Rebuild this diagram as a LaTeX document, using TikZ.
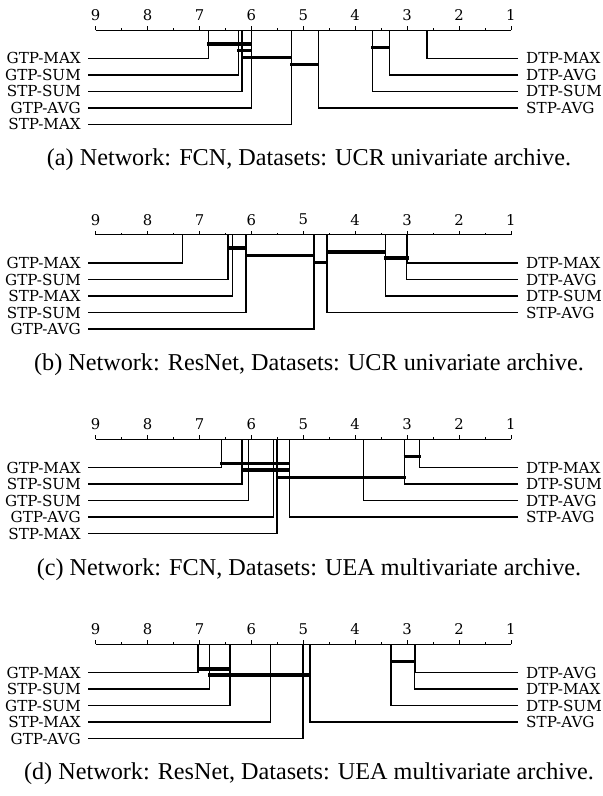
\documentclass[tikz,border=0pt]{standalone}
\usepackage{fontspec}
\setmainfont{Liberation Serif}
\newfontfamily\cdfont{DejaVu Serif}
\usepackage{tikz}
% rank -> horizontal position on the axis
\newcommand{\rx}[1]{95.7+(9-#1)*51.9}
\newcommand{\PanelSpace}{204.7}
\newcommand{\clique}[3]{\draw[clique] ({\rx{#1}-1},#3) -- ({\rx{#2}+1},#3);}

\begin{document}
\begin{tikzpicture}[x=1pt,y=-1pt,
  lbl/.style={font=\cdfont\fontsize{15.2}{17}\selectfont, inner sep=0pt, text depth=0pt},
  num/.style={font=\cdfont\fontsize{14.8}{16}\selectfont, inner sep=0pt},
  row/.style={line width=1.5pt},
  clique/.style={line width=3.3pt},
  axis/.style={line width=0.7pt},
  capt/.style={font=\fontsize{24.2}{27}\selectfont, inner sep=0pt}]

\useasboundingbox (0,0) rectangle (603,796);

% (a) FCN, UCR
\begin{scope}
\draw[axis] ({\rx{9}},30) -- ({\rx{1}},30);
\foreach \i in {1,...,9} {
  \draw[axis] ({\rx{\i}},30) -- ({\rx{\i}},26);
  \node[num] (a-n\i) at ({\rx{\i}},15) {\i};
}
\foreach \i in {1.5,2.5,...,8.5} \draw[axis] ({\rx{\i}},30) -- ({\rx{\i}},28);

\node[lbl, anchor=east] (a-l1) at (81,58.3) {GTP-MAX};
\node[lbl, anchor=east] (a-l2) at (81,74.8) {GTP-SUM};
\node[lbl, anchor=east] (a-l3) at (81,91.3) {STP-SUM};
\node[lbl, anchor=east] (a-l4) at (81,107.8) {GTP-AVG};
\node[lbl, anchor=east] (a-l5) at (81,124.3) {STP-MAX};
\coordinate (a-t1) at ({\rx{6.83}},30);
\coordinate (a-t2) at ({\rx{6.25}},30);
\coordinate (a-t3) at ({\rx{6.18}},30);
\coordinate (a-t4) at ({\rx{6.00}},30);
\coordinate (a-t5) at ({\rx{5.23}},30);
\foreach \k in {1,...,5} \draw[row] ([xshift=7pt]a-l\k.east) -| (a-t\k);

\node[lbl, anchor=west] (a-r1) at (526,58.3) {DTP-MAX};
\node[lbl, anchor=west] (a-r2) at (526,74.8) {DTP-AVG};
\node[lbl, anchor=west] (a-r3) at (526,91.3) {DTP-SUM};
\node[lbl, anchor=west] (a-r4) at (526,107.8) {STP-AVG};
\coordinate (a-u1) at ({\rx{2.62}},30);
\coordinate (a-u2) at ({\rx{3.34}},30);
\coordinate (a-u3) at ({\rx{3.67}},30);
\coordinate (a-u4) at ({\rx{4.71}},30);
\foreach \k in {1,...,4} \draw[row] ([xshift=-8pt]a-r\k.west) -| (a-u\k);

\clique{6.83}{6.00}{44}
\clique{6.25}{6.00}{50.7}
\clique{6.18}{5.23}{57.7}
\clique{5.23}{4.71}{64.3}
\clique{3.67}{3.34}{47.3}

\node[capt] (a-cap) at (309,160) {(a) Network: FCN, Datasets: UCR univariate archive.};
\end{scope}

% (b) ResNet, UCR
\begin{scope}[shift={(0,\PanelSpace)}]
\draw[axis] ({\rx{9}},30) -- ({\rx{1}},30);
\foreach \i in {1,...,9} {
  \draw[axis] ({\rx{\i}},30) -- ({\rx{\i}},26);
  \node[num] (b-n\i) at ({\rx{\i}},15) {\i};
}
\foreach \i in {1.5,2.5,...,8.5} \draw[axis] ({\rx{\i}},30) -- ({\rx{\i}},28);

\node[lbl, anchor=east] (b-l1) at (81,58.3) {GTP-MAX};
\node[lbl, anchor=east] (b-l2) at (81,74.8) {GTP-SUM};
\node[lbl, anchor=east] (b-l3) at (81,91.3) {STP-MAX};
\node[lbl, anchor=east] (b-l4) at (81,107.8) {STP-SUM};
\node[lbl, anchor=east] (b-l5) at (81,124.3) {GTP-AVG};
\coordinate (b-t1) at ({\rx{7.33}},30);
\coordinate (b-t2) at ({\rx{6.45}},30);
\coordinate (b-t3) at ({\rx{6.36}},30);
\coordinate (b-t4) at ({\rx{6.10}},30);
\coordinate (b-t5) at ({\rx{4.79}},30);
\foreach \k in {1,...,5} \draw[row] ([xshift=7pt]b-l\k.east) -| (b-t\k);

\node[lbl, anchor=west] (b-r1) at (526,58.3) {DTP-MAX};
\node[lbl, anchor=west] (b-r2) at (526,74.8) {DTP-AVG};
\node[lbl, anchor=west] (b-r3) at (526,91.3) {DTP-SUM};
\node[lbl, anchor=west] (b-r4) at (526,107.8) {STP-AVG};
\coordinate (b-u1) at ({\rx{2.99}},30);
\coordinate (b-u2) at ({\rx{3.01}},30);
\coordinate (b-u3) at ({\rx{3.42}},30);
\coordinate (b-u4) at ({\rx{4.54}},30);
\foreach \k in {1,...,4} \draw[row] ([xshift=-8pt]b-r\k.west) -| (b-u\k);

\clique{6.45}{6.10}{43.3}
\clique{6.10}{4.79}{50.7}
\clique{4.79}{4.54}{57.7}
\clique{4.54}{3.42}{47.3}
\clique{3.42}{2.99}{53.3}

\node[capt] (b-cap) at (309,160) {(b) Network: ResNet, Datasets: UCR univariate archive.};
\end{scope}

% (c) FCN, UEA
\begin{scope}[shift={(0,2*\PanelSpace)}]
\draw[axis] ({\rx{9}},30) -- ({\rx{1}},30);
\foreach \i in {1,...,9} {
  \draw[axis] ({\rx{\i}},30) -- ({\rx{\i}},26);
  \node[num] (c-n\i) at ({\rx{\i}},15) {\i};
}
\foreach \i in {1.5,2.5,...,8.5} \draw[axis] ({\rx{\i}},30) -- ({\rx{\i}},28);

\node[lbl, anchor=east] (c-l1) at (81,58.3) {GTP-MAX};
\node[lbl, anchor=east] (c-l2) at (81,74.8) {STP-SUM};
\node[lbl, anchor=east] (c-l3) at (81,91.3) {GTP-SUM};
\node[lbl, anchor=east] (c-l4) at (81,107.8) {GTP-AVG};
\node[lbl, anchor=east] (c-l5) at (81,124.3) {STP-MAX};
\coordinate (c-t1) at ({\rx{6.58}},30);
\coordinate (c-t2) at ({\rx{6.18}},30);
\coordinate (c-t3) at ({\rx{6.06}},30);
\coordinate (c-t4) at ({\rx{5.57}},30);
\coordinate (c-t5) at ({\rx{5.51}},30);
\foreach \k in {1,...,5} \draw[row] ([xshift=7pt]c-l\k.east) -| (c-t\k);

\node[lbl, anchor=west] (c-r1) at (526,58.3) {DTP-MAX};
\node[lbl, anchor=west] (c-r2) at (526,74.8) {DTP-SUM};
\node[lbl, anchor=west] (c-r3) at (526,91.3) {DTP-AVG};
\node[lbl, anchor=west] (c-r4) at (526,107.8) {STP-AVG};
\coordinate (c-u1) at ({\rx{2.76}},30);
\coordinate (c-u2) at ({\rx{3.05}},30);
\coordinate (c-u3) at ({\rx{3.84}},30);
\coordinate (c-u4) at ({\rx{5.27}},30);
\foreach \k in {1,...,4} \draw[row] ([xshift=-8pt]c-r\k.west) -| (c-u\k);

\clique{3.05}{2.76}{47.3}
\clique{6.58}{5.27}{54.3}
\clique{6.18}{5.27}{60.7}
\clique{5.51}{3.05}{68}

\node[capt] (c-cap) at (309,160) {(c) Network: FCN, Datasets: UEA multivariate archive.};
\end{scope}

% (d) ResNet, UEA
\begin{scope}[shift={(0,3*\PanelSpace)}]
\draw[axis] ({\rx{9}},30) -- ({\rx{1}},30);
\foreach \i in {1,...,9} {
  \draw[axis] ({\rx{\i}},30) -- ({\rx{\i}},26);
  \node[num] (d-n\i) at ({\rx{\i}},15) {\i};
}
\foreach \i in {1.5,2.5,...,8.5} \draw[axis] ({\rx{\i}},30) -- ({\rx{\i}},28);

\node[lbl, anchor=east] (d-l1) at (81,58.3) {GTP-MAX};
\node[lbl, anchor=east] (d-l2) at (81,74.8) {STP-SUM};
\node[lbl, anchor=east] (d-l3) at (81,91.3) {GTP-SUM};
\node[lbl, anchor=east] (d-l4) at (81,107.8) {STP-MAX};
\node[lbl, anchor=east] (d-l5) at (81,124.3) {GTP-AVG};
\coordinate (d-t1) at ({\rx{7.03}},30);
\coordinate (d-t2) at ({\rx{6.81}},30);
\coordinate (d-t3) at ({\rx{6.41}},30);
\coordinate (d-t4) at ({\rx{5.63}},30);
\coordinate (d-t5) at ({\rx{5.01}},30);
\foreach \k in {1,...,5} \draw[row] ([xshift=7pt]d-l\k.east) -| (d-t\k);

\node[lbl, anchor=west] (d-r1) at (526,58.3) {DTP-AVG};
\node[lbl, anchor=west] (d-r2) at (526,74.8) {DTP-MAX};
\node[lbl, anchor=west] (d-r3) at (526,91.3) {DTP-SUM};
\node[lbl, anchor=west] (d-r4) at (526,107.8) {STP-AVG};
\coordinate (d-u1) at ({\rx{2.84}},30);
\coordinate (d-u2) at ({\rx{2.86}},30);
\coordinate (d-u3) at ({\rx{3.31}},30);
\coordinate (d-u4) at ({\rx{4.87}},30);
\foreach \k in {1,...,4} \draw[row] ([xshift=-8pt]d-r\k.west) -| (d-u\k);

\clique{3.31}{2.84}{47.7}
\clique{7.03}{6.41}{55}
\clique{6.81}{4.87}{61}

\node[capt] (d-cap) at (309,160) {(d) Network: ResNet, Datasets: UEA multivariate archive.};
\end{scope}

\end{tikzpicture}
\end{document}
